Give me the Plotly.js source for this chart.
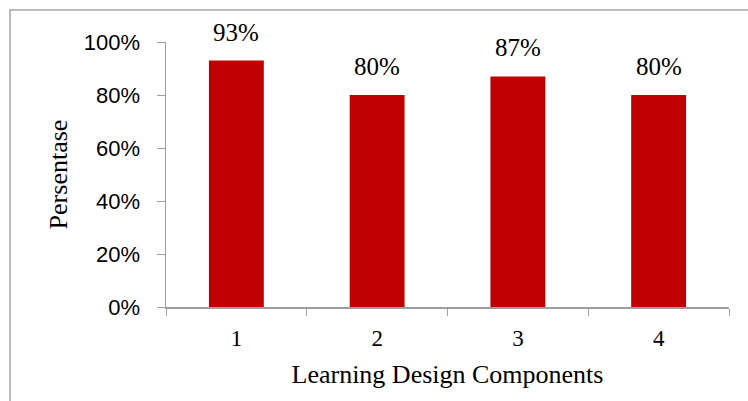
<!DOCTYPE html>
<html><head><meta charset="utf-8">
<script src="https://cdn.plot.ly/plotly-3.0.1.min.js"></script>
<style>html,body{margin:0;padding:0;background:#fff}#chart{width:748px;height:401px}</style>
</head><body><div id="chart"></div>
<script>
const categories = ['1', '2', '3', '4'];
const values = [0.93, 0.80, 0.87, 0.80];
const valueLabels = ['93%', '80%', '87%', '80%'];
const yTickVals = [0, 0.2, 0.4, 0.6, 0.8, 1.0];
const yTickText = ['0%', '20%', '40%', '60%', '80%', '100%'];

const W = 748, H = 401, L = 166, R = 19, T = 42, B = 94;
const pw = W - L - R, ph = H - T - B;
const px = v => (v - L) / pw;
const py = v => (H - B - v) / ph;
const SERIF = 'Liberation Serif';

const trace = {
  type: 'bar', x: categories, y: values,
  marker: {color: '#C00000'}, width: 0.39, hoverinfo: 'none'
};
const annotations = categories.map((c, i) => ({
  x: i, y: values[i], xref: 'x', yref: 'y', text: valueLabels[i],
  showarrow: false, yanchor: 'bottom', yshift: 13,
  font: {family: SERIF, size: 25, color: '#000'}
}));
const layout = {
  width: W, height: H, margin: {l: L, r: R, t: T, b: B},
  paper_bgcolor: '#fff', plot_bgcolor: '#fff', showlegend: false,
  font: {family: SERIF},
  xaxis: {
    type: 'category', range: [-0.5, 3.5], tickson: 'boundaries', ticks: 'outside', ticklen: 7,
    tickcolor: '#9e9e9e', showline: true, linecolor: '#9e9e9e', linewidth: 1.5,
    showgrid: false, zeroline: false, ticklabelstandoff: 10,
    tickfont: {family: SERIF, size: 23, color: '#000'},
    title: {text: 'Learning Design Components', standoff: 14,
      font: {family: SERIF, size: 26, color: '#000'}}
  },
  yaxis: {
    range: [0, 1], tickvals: yTickVals, ticktext: yTickText, ticks: 'outside', ticklen: 8,
    tickcolor: '#9e9e9e', showline: true, linecolor: '#9e9e9e', linewidth: 1.5,
    showgrid: false, zeroline: false, ticklabelstandoff: 12,
    tickfont: {family: 'Liberation Sans', size: 22, color: '#000'},
    title: {text: 'Persentase', standoff: 8,
      font: {family: SERIF, size: 26, color: '#000'}}
  },
  annotations: annotations,
  shapes: [{
    type: 'rect', xref: 'paper', yref: 'paper',
    x0: px(10), x1: px(770), y0: py(430), y1: py(10),
    line: {color: '#a6a6a6', width: 1.5}, fillcolor: 'rgba(0,0,0,0)', layer: 'below'
  }]
};
Plotly.newPlot('chart', [trace], layout, {staticPlot: true, displayModeBar: false});
</script></body></html>
